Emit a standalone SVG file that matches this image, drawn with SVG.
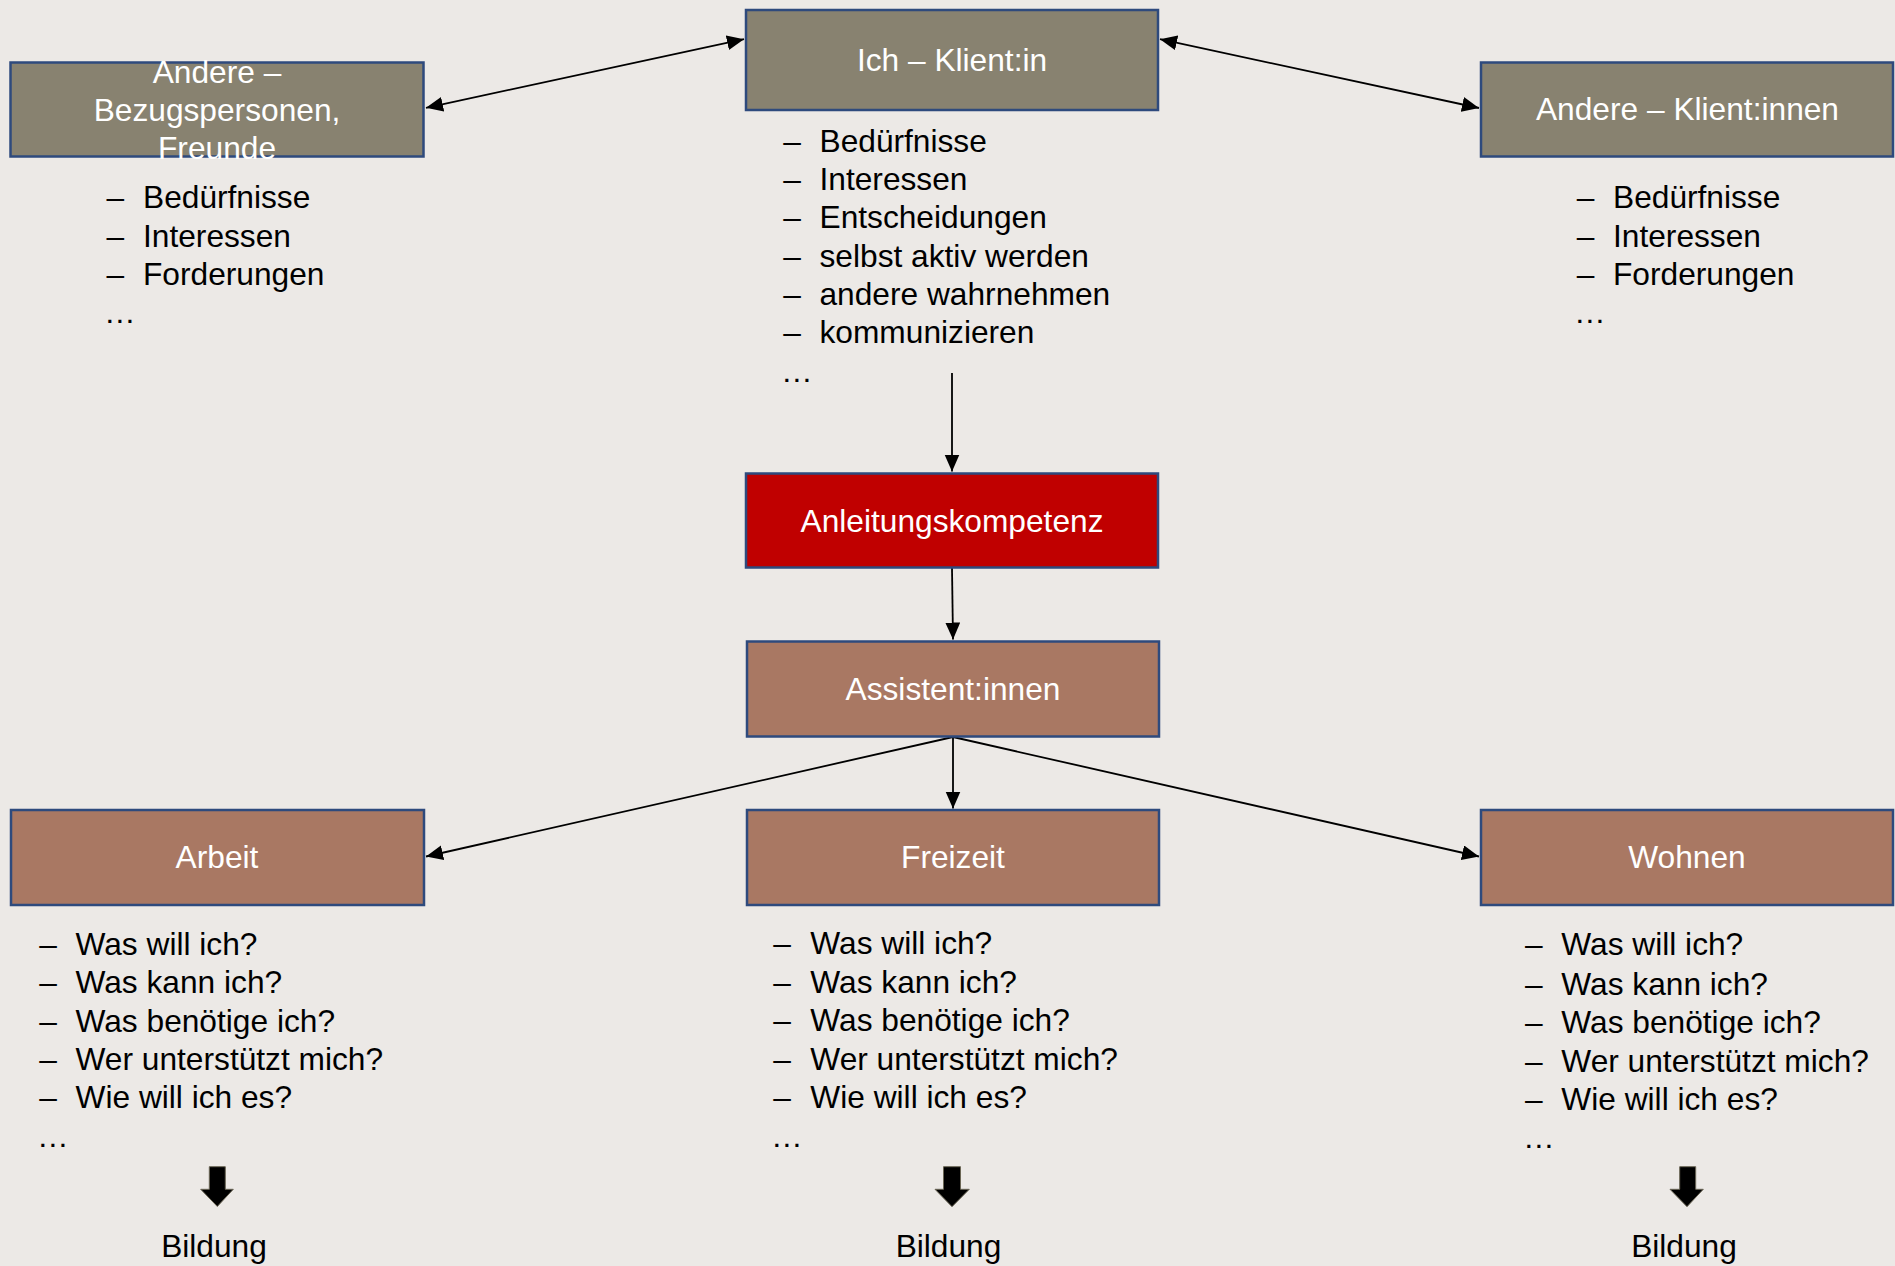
<svg xmlns="http://www.w3.org/2000/svg" width="1895" height="1266" viewBox="0 0 1895 1266">
<style>
.box{stroke:#2E4A7D;stroke-width:2.5}
.olive{fill:#888270}
.brown{fill:#A97863}
.red{fill:#C00000}
.lbl{font-family:"Liberation Sans",Arial,sans-serif;font-size:31.7px;fill:#FFFFFF;text-anchor:middle}
.lst{font-family:"Liberation Sans",Arial,sans-serif;font-size:31.7px;fill:#000000}
.con{stroke:#000;stroke-width:1.8;fill:none}
.blk{fill:#000;stroke:#6b6655;stroke-width:1}
</style>
<defs>
<marker id="ah" markerUnits="userSpaceOnUse" markerWidth="18" markerHeight="16" refX="17" refY="7.5" orient="auto-start-reverse" viewBox="0 0 18 16">
<path d="M0,0 L17,7.5 L0,15 z" fill="#000"/>
</marker>
</defs>
<rect width="1895" height="1266" fill="#ECE9E6"/>

<g id="connectors">
<line class="con" x1="426" y1="107.8" x2="744" y2="39.2" marker-start="url(#ah)" marker-end="url(#ah)"/>
<line class="con" x1="1160" y1="39.2" x2="1479" y2="108" marker-start="url(#ah)" marker-end="url(#ah)"/>
<line class="con" x1="952" y1="373" x2="952" y2="471.5" marker-end="url(#ah)"/>
<line class="con" x1="952" y1="568" x2="953" y2="639.5" marker-end="url(#ah)"/>
<line class="con" x1="953" y1="737" x2="953" y2="808.5" marker-end="url(#ah)"/>
<line class="con" x1="953" y1="737" x2="426" y2="856.5" marker-end="url(#ah)"/>
<line class="con" x1="953" y1="737" x2="1479" y2="856.5" marker-end="url(#ah)"/>
</g>

<g id="node-andere-bezug">
<rect class="box olive" x="10.5" y="62.5" width="413" height="94"/>
<text class="lbl" x="217" y="82.5">Andere –</text>
<text class="lbl" x="217" y="121">Bezugspersonen,</text>
<text class="lbl" x="217" y="158.5">Freunde</text>
<g class="lst">
<text x="106.5" y="208.3">–</text><text x="143" y="208.3">Bedürfnisse</text>
<text x="106.5" y="246.7">–</text><text x="143" y="246.7">Interessen</text>
<text x="106.5" y="285">–</text><text x="143" y="285">Forderungen</text>
<text x="104" y="323.3">…</text>
</g>
</g>

<g id="node-ich">
<rect class="box olive" x="746" y="10" width="412" height="100"/>
<text class="lbl" x="952" y="70.7">Ich – Klient:in</text>
<g class="lst">
<text x="783.3" y="151.7">–</text><text x="819.5" y="151.7">Bedürfnisse</text>
<text x="783.3" y="190">–</text><text x="819.5" y="190">Interessen</text>
<text x="783.3" y="228.3">–</text><text x="819.5" y="228.3">Entscheidungen</text>
<text x="783.3" y="266.7">–</text><text x="819.5" y="266.7">selbst aktiv werden</text>
<text x="783.3" y="305">–</text><text x="819.5" y="305">andere wahrnehmen</text>
<text x="783.3" y="343.3">–</text><text x="819.5" y="343.3">kommunizieren</text>
<text x="781" y="381.7">…</text>
</g>
</g>

<g id="node-andere-klienten">
<rect class="box olive" x="1481" y="62.5" width="412" height="94"/>
<text class="lbl" x="1687.5" y="120">Andere – Klient:innen</text>
<g class="lst">
<text x="1576.7" y="208.3">–</text><text x="1613" y="208.3">Bedürfnisse</text>
<text x="1576.7" y="246.7">–</text><text x="1613" y="246.7">Interessen</text>
<text x="1576.7" y="285">–</text><text x="1613" y="285">Forderungen</text>
<text x="1574" y="323.3">…</text>
</g>
</g>

<g id="node-anleitung">
<rect class="box red" x="746" y="473.5" width="412" height="94"/>
<text class="lbl" x="952" y="531.7">Anleitungskompetenz</text>
</g>

<g id="node-assistent">
<rect class="box brown" x="747" y="641.5" width="412" height="95"/>
<text class="lbl" x="953" y="700">Assistent:innen</text>
</g>

<g id="node-arbeit">
<rect class="box brown" x="11" y="810" width="413" height="95"/>
<text class="lbl" x="217" y="868.3">Arbeit</text>
<g class="lst">
<text x="39.3" y="955">–</text><text x="75.5" y="955">Was will ich?</text>
<text x="39.3" y="993.3">–</text><text x="75.5" y="993.3">Was kann ich?</text>
<text x="39.3" y="1031.7">–</text><text x="75.5" y="1031.7">Was benötige ich?</text>
<text x="39.3" y="1070">–</text><text x="75.5" y="1070">Wer unterstützt mich?</text>
<text x="39.3" y="1108.3">–</text><text x="75.5" y="1108.3">Wie will ich es?</text>
<text x="37" y="1146.7">…</text>
</g>
<path class="blk" d="M209.3,1166.7 H225.3 V1189.3 H233.3 L217.3,1206.5 L200.7,1189.3 H209.3 Z"/>
<text class="lst" x="214" y="1256.7" text-anchor="middle">Bildung</text>
</g>

<g id="node-freizeit">
<rect class="box brown" x="747" y="810" width="412" height="95"/>
<text class="lbl" x="953" y="868.3">Freizeit</text>
<g class="lst">
<text x="773.3" y="954.3">–</text><text x="810.3" y="954.3">Was will ich?</text>
<text x="773.3" y="992.7">–</text><text x="810.3" y="992.7">Was kann ich?</text>
<text x="773.3" y="1030.5">–</text><text x="810.3" y="1030.5">Was benötige ich?</text>
<text x="773.3" y="1070">–</text><text x="810.3" y="1070">Wer unterstützt mich?</text>
<text x="773.3" y="1108.3">–</text><text x="810.3" y="1108.3">Wie will ich es?</text>
<text x="771" y="1146.7">…</text>
</g>
<path class="blk" d="M943.5,1166.7 H960.5 V1189.3 H969.3 L952,1206.7 L935,1189.3 H943.5 Z"/>
<text class="lst" x="948.5" y="1256.7" text-anchor="middle">Bildung</text>
</g>

<g id="node-wohnen">
<rect class="box brown" x="1481" y="810" width="412" height="95"/>
<text class="lbl" x="1687" y="868.3">Wohnen</text>
<g class="lst">
<text x="1525" y="955">–</text><text x="1561.3" y="955">Was will ich?</text>
<text x="1525" y="994.5">–</text><text x="1561.3" y="994.5">Was kann ich?</text>
<text x="1525" y="1032.7">–</text><text x="1561.3" y="1032.7">Was benötige ich?</text>
<text x="1525" y="1071.5">–</text><text x="1561.3" y="1071.5">Wer unterstützt mich?</text>
<text x="1525" y="1110">–</text><text x="1561.3" y="1110">Wie will ich es?</text>
<text x="1523" y="1148.3">…</text>
</g>
<path class="blk" d="M1679.7,1166.7 H1695.7 V1189.3 H1703.3 L1687,1206.7 L1670,1189.3 H1679.7 Z"/>
<text class="lst" x="1684" y="1256.7" text-anchor="middle">Bildung</text>
</g>
</svg>
